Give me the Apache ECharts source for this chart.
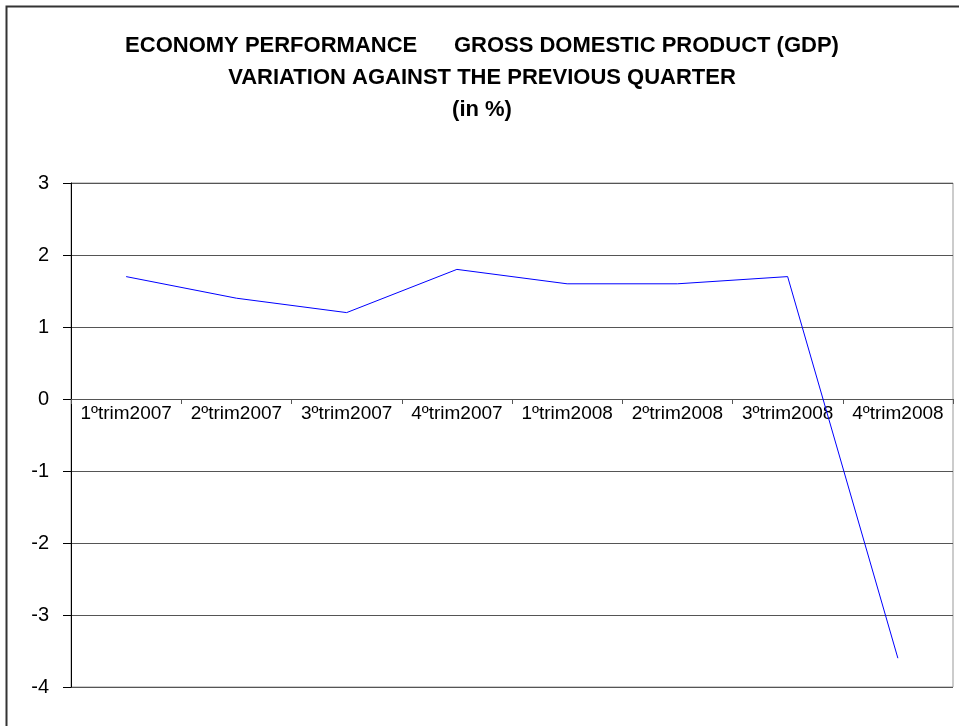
<!DOCTYPE html>
<html>
<head>
<meta charset="utf-8">
<script src="https://cdn.jsdelivr.net/npm/echarts@6/dist/echarts.min.js"></script>
<style>html,body{margin:0;padding:0;background:#fff}#c{width:959px;height:726px}</style>
</head>
<body>
<div id="c"></div>
<script>
var categories = ['1ºtrim2007','2ºtrim2007','3ºtrim2007','4ºtrim2007','1ºtrim2008','2ºtrim2008','3ºtrim2008','4ºtrim2008'];
var gdpValues = [1.7, 1.4, 1.2, 1.8, 1.6, 1.6, 1.7, -3.6];
var titleLines = ['ECONOMY PERFORMANCE      GROSS DOMESTIC PRODUCT (GDP)', 'VARIATION AGAINST THE PREVIOUS QUARTER', '(in %)'];
var yMin = -4, yMax = 3;

var gridTop = 183, gridHeight = 504;
// pixel offset of the zero line above the grid bottom (derived from the axis range)
var zeroOffset = gridHeight * (0 - yMin) / (yMax - yMin);

var chart = echarts.init(document.getElementById('c'), null, {renderer: 'canvas'});
chart.setOption({
  animation: false,
  backgroundColor: '#fff',
  title: {
    text: titleLines.join('\n'),
    left: 477, top: 25, textAlign: 'center',
    textStyle: {fontFamily: 'Liberation Sans, Arial, sans-serif', fontWeight: 'bold', fontSize: 22, lineHeight: 32, color: '#000'}
  },
  graphic: [{
    type: 'rect', shape: {x: 6.5, y: 6.5, width: 1000, height: 1000},
    style: {fill: 'none', stroke: '#333', lineWidth: 2}, silent: true, z: -1
  }],
  grid: {left: 71, top: gridTop, width: 882, height: gridHeight, show: true, borderColor: '#999', borderWidth: 1, containLabel: false},
  xAxis: {
    type: 'category', data: categories, boundaryGap: true, position: 'bottom',
    offset: -zeroOffset,
    axisLine: {onZero: false, lineStyle: {color: '#555', width: 1}},
    axisTick: {show: true, alignWithLabel: false, length: 5, lineStyle: {color: '#555'}},
    axisLabel: {interval: 0, margin: 5, color: '#000', fontSize: 19, fontFamily: 'Liberation Sans, Arial, sans-serif'},
    splitLine: {show: false}
  },
  yAxis: {
    type: 'value', min: yMin, max: yMax, interval: 1,
    axisLine: {show: true, lineStyle: {color: '#000', width: 1}},
    axisTick: {show: true, length: 8, lineStyle: {color: '#000'}},
    axisLabel: {margin: 22, color: '#000', fontSize: 20, fontFamily: 'Liberation Sans, Arial, sans-serif'},
    splitLine: {show: true, lineStyle: {color: '#555', width: 1}}
  },
  series: [{
    type: 'line', data: gdpValues, showSymbol: false, symbol: 'none',
    lineStyle: {color: '#0000FF', width: 1}, itemStyle: {color: '#0000FF'}
  }]
});
</script>
</body>
</html>
